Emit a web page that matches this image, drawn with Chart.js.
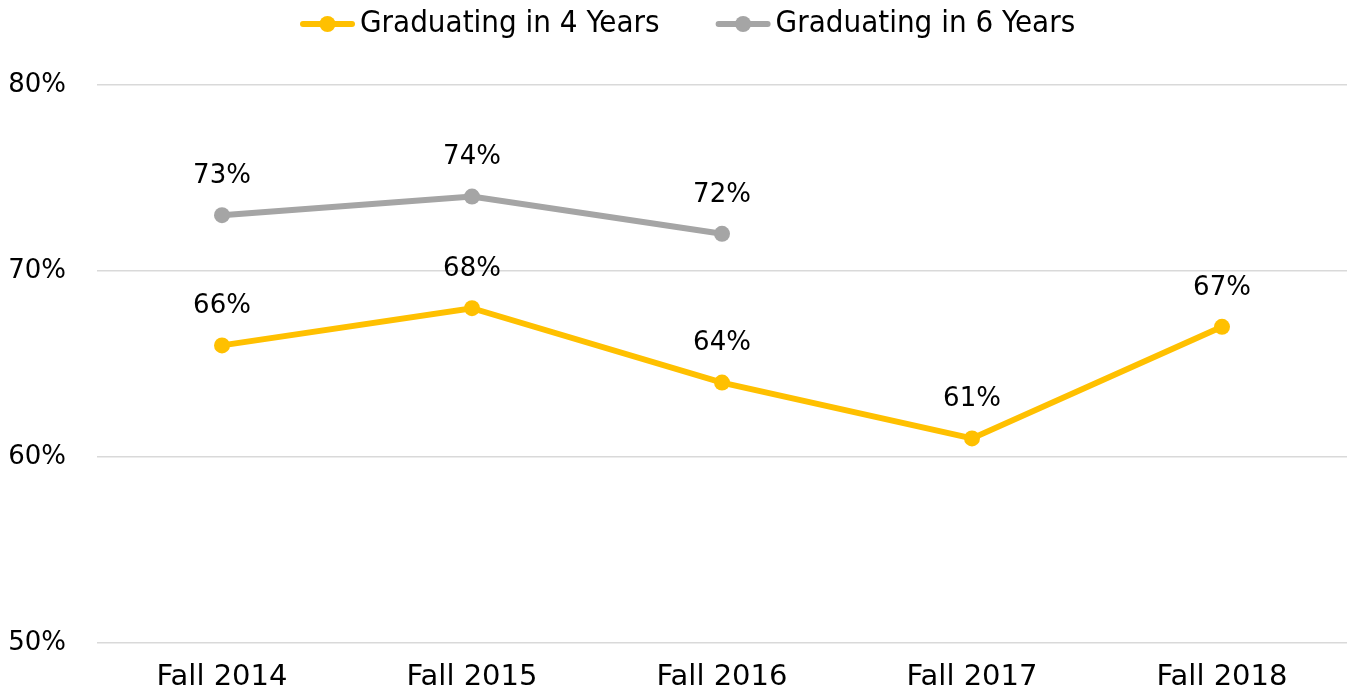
<!DOCTYPE html>
<html>
<head>
<meta charset="utf-8">
<script src="https://cdn.jsdelivr.net/npm/chart.js@4.4.1/dist/chart.umd.min.js"></script>
<style>
html,body{margin:0;padding:0;background:#fff;overflow:hidden;}
canvas{display:block;}
</style>
</head>
<body>
<canvas id="c" width="1349" height="696" style="width:1349px;height:696px"></canvas>
<script>
const categories = ["Fall 2014", "Fall 2015", "Fall 2016", "Fall 2017", "Fall 2018"];
const grad4 = [66, 68, 64, 61, 67];
const grad6 = [73, 74, 72, null, null];
const seriesNames = ["Graduating in 4 Years", "Graduating in 6 Years"];
const yTicks = [50, 60, 70, 80];

const YELLOW = "#FFC000";
const GRAY = "#A5A5A5";
const LABEL_FONT = "'DejaVu Sans', sans-serif";
const LEGEND_FONT = "'DejaVu Sans Condensed', 'DejaVu Sans', sans-serif";

const dataLabels = {
  id: "dataLabels",
  afterDatasetsDraw(chart) {
    const ctx = chart.ctx;
    ctx.save();
    ctx.font = "26px " + LABEL_FONT;
    ctx.fillStyle = "#000";
    ctx.textAlign = "center";
    ctx.textBaseline = "middle";
    chart.data.datasets.forEach((ds, i) => {
      const meta = chart.getDatasetMeta(i);
      meta.data.forEach((pt, j) => {
        const v = ds.data[j];
        if (v === null || v === undefined) return;
        ctx.fillText(v + "%", pt.x, pt.y - 39);
      });
    });
    ctx.restore();
  }
};

const customLegend = {
  id: "customLegend",
  afterDraw(chart) {
    const ctx = chart.ctx;
    ctx.save();
    ctx.font = "31px " + LEGEND_FONT;
    ctx.textBaseline = "middle";
    ctx.textAlign = "left";
    const y = 24;
    let x = 300;
    chart.data.datasets.forEach((ds, i) => {
      const c = ds.borderColor;
      ctx.strokeStyle = c; ctx.lineWidth = 6; ctx.lineCap = "round";
      ctx.beginPath(); ctx.moveTo(x + 3, y); ctx.lineTo(x + 52, y); ctx.stroke();
      ctx.fillStyle = c;
      ctx.beginPath(); ctx.arc(x + 27.5, y, 8, 0, Math.PI * 2); ctx.fill();
      ctx.fillStyle = "#000";
      const tx = x + 60;
      ctx.fillText(ds.label, tx, y);
      x = tx + ctx.measureText(ds.label).width + 56;
    });
    ctx.restore();
  }
};

new Chart(document.getElementById("c"), {
  type: "line",
  data: {
    labels: categories,
    datasets: [
      { label: seriesNames[0], data: grad4, borderColor: YELLOW, backgroundColor: YELLOW,
        borderWidth: 6, pointRadius: 8, pointHoverRadius: 8, pointBackgroundColor: YELLOW,
        pointBorderWidth: 0, tension: 0 },
      { label: seriesNames[1], data: grad6, borderColor: GRAY, backgroundColor: GRAY,
        borderWidth: 6, pointRadius: 8, pointHoverRadius: 8, pointBackgroundColor: GRAY,
        pointBorderWidth: 0, tension: 0, spanGaps: false }
    ]
  },
  options: {
    responsive: false,
    animation: false,
    layout: { autoPadding: false, padding: { left: 0, right: 2, top: 85, bottom: 0 } },
    plugins: {
      tooltip: { enabled: false },
      legend: { display: false }
    },
    scales: {
      x: {
        offset: true,
        grid: { display: false },
        border: { display: false },
        ticks: { color: "#000", font: { family: LABEL_FONT, size: 29 }, padding: 9, maxRotation: 0 },
        afterFit(s) { s.height = 53; s.paddingRight = 0; s.paddingLeft = 0; }
      },
      y: {
        min: 50, max: 80,
        afterBuildTicks(s) { s.ticks = yTicks.map(v => ({ value: v })); },
        grid: { color: "#D9D9D9", lineWidth: 1.5, drawTicks: false },
        border: { display: false },
        ticks: { color: "#000", font: { family: LABEL_FONT, size: 26 }, padding: 31,
          callback: v => v + "%" },
        afterFit(s) { s.width = 97; }
      }
    }
  },
  plugins: [dataLabels, customLegend]
});
</script>
</body>
</html>
